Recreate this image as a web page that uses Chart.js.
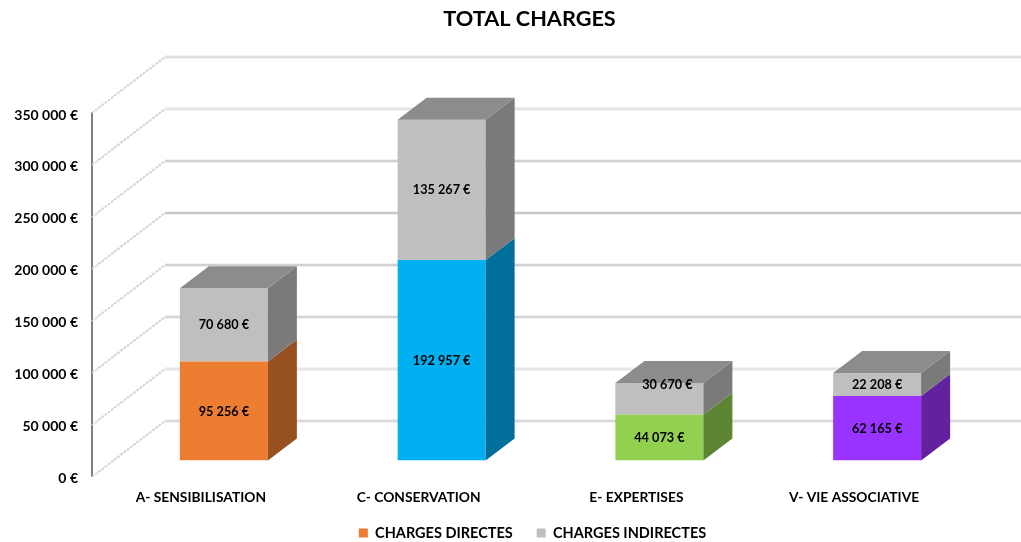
<!DOCTYPE html>
<html><head><meta charset="utf-8">
<style>html,body{margin:0;padding:0;background:#fff}#w{width:1021px;height:542px}</style>
<script src="https://cdn.jsdelivr.net/npm/chart.js@4"></script>
</head><body><div id="w"><canvas id="c" width="1021" height="542"></canvas></div>
<script>
const categories = ["A- SENSIBILISATION","C- CONSERVATION","E- EXPERTISES","V- VIE ASSOCIATIVE"];
const chargesDirectes = [95256,192957,44073,62165];
const chargesIndirectes = [70680,135267,30670,22208];
const directColors = ["#ED7D31","#00B0F0","#92D050","#9933FF"];
const directSides = ["#97501F","#00709A","#5E8533","#62219F"];
const indirectColor = "#BFBFBF", indirectSide = "#7A7A7A", topColor = "#8C8C8C";
const FONT = "Lato, Carlito, sans-serif";
const money = v => String(v).replace(/\B(?=(\d{3})+$)/g, "\u00a0") + "\u00a0€";

// 3-D projection offsets (px)
const wall = {dx:73, dy:-56}, front = {dx:23, dy:-16}, depth = {dx:29, dy:-22};

const gridCore = {
  0:"#d4d4d4",50000:"#e4e4e4",100000:"#d0d0d0",150000:"#c8c8c8",
  200000:"#bbbbbb",250000:"#c8c8c8",300000:"#e4e4e4",350000:"#dcdcdc"
};
const LEGEND_Y = 533, LEGEND_H = 18, LEGEND_PAD = 24, LEGEND_SHIFT = 51;

const threeD = {
  id:"threeD",
  beforeLayout(chart){
    chart.legend.afterFit = function(){ this.height = LEGEND_H; };
  },
  afterLayout(chart){
    // the title and legend are centred on the whole projected plot, not on the front plane
    const t = chart.titleBlock, l = chart.legend;
    t.left += 48; t.right += 48;
    l.left += LEGEND_SHIFT; l.right += LEGEND_SHIFT;
    const h = 14.5 + 2*LEGEND_PAD;
    l.top = LEGEND_Y - h/2; l.bottom = l.top + h; l.height = h;
    // let the category labels be drawn below the squeezed axis box
    const x = chart.scales.x; x.bottom = x.top + 40; x.height = 40;
  },
  beforeDatasetsDraw(chart){
    const {ctx, scales:{y}, chartArea:a} = chart;
    ctx.save();
    y.ticks.forEach(t=>{
      const py = Math.round(y.getPixelForValue(t.value));
      ctx.strokeStyle = "#d6d6d6"; ctx.lineWidth = 2; ctx.setLineDash([3,1]);
      ctx.beginPath(); ctx.moveTo(a.left,py); ctx.lineTo(a.left+wall.dx,py+wall.dy); ctx.stroke();
      ctx.setLineDash([]);
      const gy = py+wall.dy;
      ctx.strokeStyle = "#ececec"; ctx.lineWidth = 3.5;
      ctx.beginPath(); ctx.moveTo(a.left+wall.dx,gy); ctx.lineTo(chart.width,gy); ctx.stroke();
      ctx.strokeStyle = gridCore[t.value] || "#d0d0d0"; ctx.lineWidth = 1.5;
      ctx.beginPath(); ctx.moveTo(a.left+wall.dx,gy); ctx.lineTo(chart.width,gy); ctx.stroke();
    });
    ctx.restore();
    ctx.save();
    ctx.translate(front.dx,front.dy);
  },
  afterDatasetsDraw(chart){
    const {ctx} = chart;
    const m0 = chart.getDatasetMeta(0).data, m1 = chart.getDatasetMeta(1).data;
    const poly = (pts,c)=>{ctx.fillStyle=c;ctx.beginPath();pts.forEach((p,i)=>i?ctx.lineTo(p[0],p[1]):ctx.moveTo(p[0],p[1]));ctx.closePath();ctx.fill();};
    const side = (b,c)=>{const r=b.x+b.width/2;poly([[r,b.y],[r+depth.dx,b.y+depth.dy],[r+depth.dx,b.base+depth.dy],[r,b.base]],c);};
    m0.forEach((b,i)=>side(b,directSides[i]));
    m1.forEach(b=>{
      side(b,indirectSide);
      const l=b.x-b.width/2,r=b.x+b.width/2;
      poly([[l,b.y],[l+depth.dx,b.y+depth.dy],[r+depth.dx,b.y+depth.dy],[r,b.y]],topColor);
    });
    ctx.fillStyle="#000";ctx.font="bold 12.7px "+FONT;ctx.textAlign="center";ctx.textBaseline="middle";
    [[m0,chargesDirectes,0],[m1,chargesIndirectes,1]].forEach(([m,v,d])=>m.forEach((b,i)=>{
      // the 30 670 € label sits moved up and right in the source chart
      const moved = d===1 && i===2;
      ctx.fillText(money(v[i]),b.x+(moved?8:0),(b.y+b.base)/2+0.5+(moved?-14:0));
    }));
    ctx.restore();
  }
};

new Chart(document.getElementById("c"),{
  type:"bar",
  data:{labels:categories,datasets:[
    {label:"CHARGES DIRECTES",data:chargesDirectes,backgroundColor:directColors,stack:"s",barPercentage:0.404,categoryPercentage:1},
    {label:"CHARGES INDIRECTES",data:chargesIndirectes,backgroundColor:indirectColor,stack:"s",barPercentage:0.404,categoryPercentage:1}
  ]},
  plugins:[threeD],
  options:{
    responsive:false,animation:false,
    layout:{padding:{left:0,right:58,top:0,bottom:0}},
    scales:{
      x:{stacked:true,grid:{display:false},border:{display:false},
        ticks:{color:"#000",font:{family:FONT,size:13.8,weight:"bold"},padding:5,maxRotation:0},
        afterFit(s){s.height=17;}},
      y:{stacked:true,min:0,max:350000,grid:{display:false},
        border:{display:true,color:"#7f7f7f",width:2},
        ticks:{stepSize:50000,color:"#000",font:{family:FONT,size:14,weight:"bold"},padding:6,labelOffset:2,callback:v=>money(v)},
        afterFit(s){s.width=92;}}
    },
    plugins:{
      title:{display:true,text:"TOTAL CHARGES",color:"#000",font:{family:FONT,size:21.7,weight:"bold"},padding:{top:6,bottom:81}},
      tooltip:{enabled:false},
      legend:{position:"bottom",labels:{color:"#000",font:{family:FONT,size:14.5,weight:"bold"},boxWidth:9,boxHeight:9,padding:LEGEND_PAD,
        generateLabels(){return [
          {text:"CHARGES DIRECTES",fillStyle:directColors[0],strokeStyle:directColors[0],lineWidth:0,datasetIndex:0},
          {text:"CHARGES INDIRECTES",fillStyle:indirectColor,strokeStyle:indirectColor,lineWidth:0,datasetIndex:1}];}}}
    }
  }
});
</script></body></html>
